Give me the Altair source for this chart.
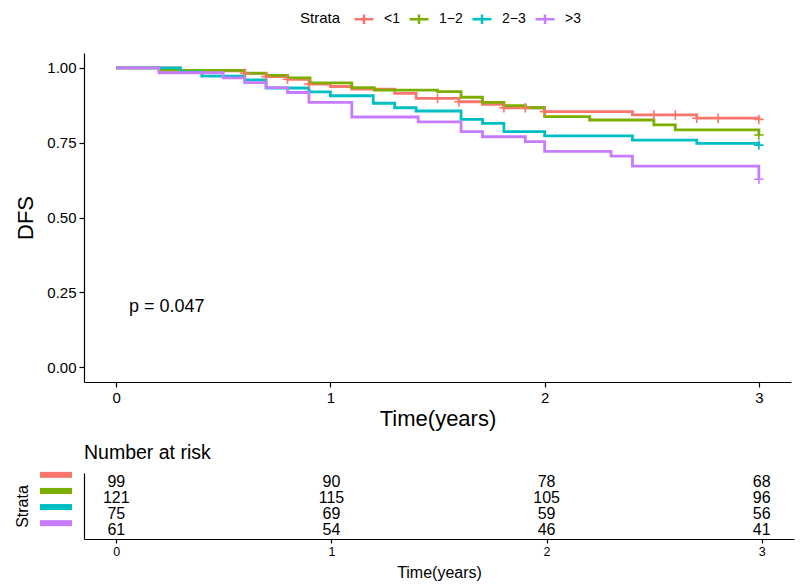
import altair as alt
import pandas as pd

FONT = "Liberation Sans"

# Strata labels and colours (ggplot default hue palette)
strata = ["<1", "1\u22122", "2\u22123", ">3"]
colors = ["#F8766D", "#7CAE00", "#00BFC4", "#C77CFF"]

# Kaplan-Meier step curves: event times and survival after each step
lt1_time = [0, 0.3, 0.6, 0.7, 0.8, 0.9, 1.0, 1.1, 1.3, 1.4, 1.6, 1.71, 1.81, 2.0, 2.41, 2.71, 3.0]
lt1_surv = [1.0, 0.990, 0.982, 0.971, 0.962, 0.946, 0.938, 0.929, 0.915, 0.898, 0.887, 0.878, 0.867, 0.854, 0.843, 0.832, 0.828]
lt1_cens = [0.6, 0.7, 0.8, 0.9, 1.5, 1.6, 1.81, 1.91, 2.0, 2.51, 2.61, 2.71, 2.81, 3.0]

m12_time = [0, 0.2, 0.6, 0.7, 0.8, 0.905, 1.1, 1.205, 1.5, 1.61, 1.71, 1.81, 1.91, 2.0, 2.21, 2.51, 2.61, 3.0]
m12_surv = [1.0, 0.992, 0.983, 0.975, 0.967, 0.950, 0.934, 0.926, 0.921, 0.902, 0.885, 0.874, 0.867, 0.837, 0.826, 0.810, 0.793, 0.776]
m12_cens = [3.0]

m23_time = [0, 0.3, 0.4, 0.6, 0.7, 0.9, 1.0, 1.2, 1.3, 1.4, 1.61, 1.71, 1.81, 2.0, 2.41, 2.71, 3.0]
m23_surv = [1.0, 0.987, 0.973, 0.960, 0.933, 0.920, 0.907, 0.882, 0.867, 0.856, 0.828, 0.815, 0.787, 0.773, 0.759, 0.748, 0.742]
m23_cens = [3.0]

gt3_time = [0, 0.2, 0.5, 0.6, 0.7, 0.8, 0.9, 1.1, 1.41, 1.61, 1.71, 1.91, 2.0, 2.31, 2.41, 3.0]
gt3_surv = [1.0, 0.984, 0.967, 0.951, 0.934, 0.918, 0.885, 0.836, 0.820, 0.787, 0.770, 0.754, 0.721, 0.705, 0.672, 0.628]
gt3_cens = [3.0]

# Number at risk table
risk_times = [0, 1, 2, 3]
risk_lt1 = [99, 90, 78, 68]
risk_m12 = [121, 115, 105, 96]
risk_m23 = [75, 69, 59, 56]
risk_gt3 = [61, 54, 46, 41]

pval_text = "p = 0.047"
pval_x, pval_y = 0.06, 0.2

curves = [
    (strata[0], lt1_time, lt1_surv, lt1_cens, risk_lt1),
    (strata[1], m12_time, m12_surv, m12_cens, risk_m12),
    (strata[2], m23_time, m23_surv, m23_cens, risk_m23),
    (strata[3], gt3_time, gt3_surv, gt3_cens, risk_gt3),
]


def surv_at(times, surv, t):
    """Value of the step curve at time t (right-continuous)."""
    val = surv[0]
    for ti, si in zip(times, surv):
        if ti <= t:
            val = si
    return val


line_rows, cens_rows, risk_rows = [], [], []
for order, (name, times, surv, cens, risk) in enumerate(curves):
    for t, s in zip(times, surv):
        line_rows.append({"strata": name, "time": t, "surv": s, "order": order})
    for t in cens:
        cens_rows.append({"strata": name, "time": t, "surv": surv_at(times, surv, t), "order": order})
    for t, n in zip(risk_times, risk):
        risk_rows.append({"strata": name, "time": t, "n": n, "row": order + 1})

lines_df = pd.DataFrame(line_rows)
cens_df = pd.DataFrame(cens_rows)
risk_df = pd.DataFrame(risk_rows)
bars_df = pd.DataFrame({"strata": strata, "row": [1, 2, 3, 4]})
pval_df = pd.DataFrame({"x": [pval_x], "y": [pval_y], "label": [pval_text]})

color_scale = alt.Scale(domain=strata, range=colors)

x_main = alt.X(
    "time:Q",
    scale=alt.Scale(domain=[-0.15, 3.15], nice=False, zero=False),
    axis=alt.Axis(
        values=[0, 1, 2, 3], format="d", title="Time(years)",
        titleFontSize=22, titleFontWeight="normal", titlePadding=3,
        labelFontSize=15, labelPadding=3, tickSize=5,
    ),
)
y_main = alt.Y(
    "surv:Q",
    scale=alt.Scale(domain=[-0.05, 1.05], nice=False, zero=False),
    axis=alt.Axis(
        values=[0, 0.25, 0.5, 0.75, 1.0], format=".2f", title="DFS",
        titleFontSize=22, titleFontWeight="normal", titlePadding=9,
        labelFontSize=15, labelPadding=3, tickSize=5,
    ),
)

steps = alt.Chart(lines_df).mark_line(interpolate="step-after", strokeWidth=2.8).encode(
    x=x_main,
    y=y_main,
    color=alt.Color(
        "strata:N", scale=color_scale, sort=strata,
        legend=alt.Legend(
            orient="none", legendX=216, legendY=-45, direction="horizontal",
            title="Strata", titleOrient="left", titleFontSize=15, titleFontWeight="normal",
            titlePadding=12, titleBaseline="middle", titleAnchor="middle",
            labelFontSize=14, labelOffset=9, columnPadding=4,
            symbolType="M-1,0H1M0,-0.5V0.5", symbolSize=361, symbolStrokeWidth=2.5,
        ),
    ),
    detail="strata:N",
    order="time:Q",
)

censors = alt.Chart(cens_df).mark_point(
    shape="M-1,0H1M0,-1V1", size=90, strokeWidth=1.6, filled=False, opacity=1
).encode(
    x="time:Q",
    y="surv:Q",
    color=alt.Color("strata:N", scale=color_scale, legend=None),
)

pval = alt.Chart(pval_df).mark_text(
    align="left", baseline="middle", fontSize=18, font=FONT, color="black"
).encode(x="x:Q", y="y:Q", text="label:N")

main = alt.layer(steps, censors, pval).properties(width=707, height=329)

# Number-at-risk table
risk_x = alt.X(
    "time:Q",
    scale=alt.Scale(domain=[-0.15, 3.15], nice=False, zero=False),
    axis=alt.Axis(
        values=[0, 1, 2, 3], format="d", title="Time(years)",
        titleFontSize=16, titleFontWeight="normal", titlePadding=7,
        labelFontSize=12.5, labelPadding=2, tickSize=4,
    ),
)
risk_y = alt.Y(
    "row:Q",
    scale=alt.Scale(domain=[0.45, 4.55], reverse=True, nice=False, zero=False),
    axis=alt.Axis(
        labels=False, ticks=False, title="Strata", titleFontSize=16,
        titleFontWeight="normal", titlePadding=54,
    ),
)

risk_text = alt.Chart(risk_df).mark_text(
    fontSize=16, font=FONT, color="black", baseline="middle"
).encode(x=risk_x, y=risk_y, text="n:Q")

risk_bars = alt.Chart(bars_df).mark_rule(strokeWidth=6, yOffset=-7, strokeCap="butt").encode(
    x=alt.value(-44),
    x2=alt.value(-12),
    y="row:Q",
    color=alt.Color("strata:N", scale=color_scale, legend=None),
)

risk = alt.layer(risk_text, risk_bars).properties(
    width=710, height=66,
    title=alt.TitleParams(
        "Number at risk", anchor="start", frame="group", fontSize=19.5,
        fontWeight="normal", font=FONT, color="black", offset=8,
    ),
)

chart = (
    alt.vconcat(main, risk, spacing=14)
    .resolve_scale(color="independent")
    .properties(padding={"left": 14, "top": 8, "right": 5, "bottom": 5})
    .configure(font=FONT)
    .configure_view(stroke=None)
    .configure_axis(
        grid=False, domainColor="black", domainWidth=1.2, tickColor="black", tickWidth=1.2,
        labelColor="black", titleColor="black", labelFont=FONT, titleFont=FONT,
    )
    .configure_legend(labelFont=FONT, titleFont=FONT, labelColor="black", titleColor="black")
)

chart.save("out.html", embed_options={"renderer": "svg", "actions": False})
